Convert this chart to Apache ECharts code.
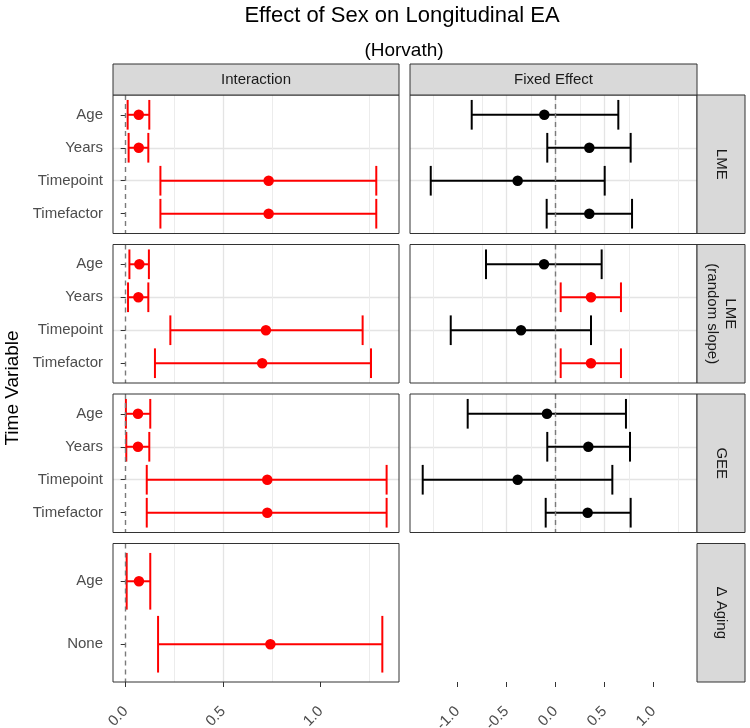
<!DOCTYPE html>
<html><head><meta charset="utf-8">
<script src="https://cdn.jsdelivr.net/npm/echarts@6/dist/echarts.min.js"></script>
<style>html,body{margin:0;padding:0;background:#fff}#c{width:750px;height:728px}</style>
</head><body><div id="c"></div>
<script>
// ---------- data ----------
const timeVars = ['Age', 'Years', 'Timepoint', 'Timefactor'];
const agingVars = ['Age', 'None'];
const modelNames = ['LME', 'LME\n(random slope)', 'GEE', 'Δ Aging'];
const effectNames = ['Interaction', 'Fixed Effect'];
const interactionTicks = [0, 0.5, 1.0];
const fixedTicks = [-1.0, -0.5, 0, 0.5, 1.0];

// Interaction effects (estimate, lower CI, upper CI)
const lmeIntEst  = [0.067, 0.067, 0.733, 0.733];
const lmeIntLow  = [0.010, 0.015, 0.178, 0.178];
const lmeIntHigh = [0.121, 0.116, 1.285, 1.285];
const rsIntEst   = [0.070, 0.065, 0.719, 0.700];
const rsIntLow   = [0.019, 0.012, 0.229, 0.150];
const rsIntHigh  = [0.119, 0.116, 1.215, 1.258];
const geeIntEst  = [0.063, 0.063, 0.726, 0.726];
const geeIntLow  = [0.001, 0.003, 0.108, 0.108];
const geeIntHigh = [0.126, 0.121, 1.338, 1.338];
const agingIntEst  = [0.068, 0.742];
const agingIntLow  = [0.005, 0.166];
const agingIntHigh = [0.126, 1.316];

// Fixed effects
const lmeFixEst  = [-0.114, 0.345, -0.386, 0.345];
const lmeFixLow  = [-0.855, -0.084, -1.273, -0.090];
const lmeFixHigh = [0.641, 0.767, 0.502, 0.781];
const rsFixEst   = [-0.117, 0.362, -0.352, 0.362];
const rsFixLow   = [-0.709, 0.053, -1.069, 0.053];
const rsFixHigh  = [0.471, 0.668, 0.362, 0.668];
const geeFixEst  = [-0.087, 0.335, -0.386, 0.328];
const geeFixLow  = [-0.896, -0.084, -1.355, -0.100];
const geeFixHigh = [0.719, 0.760, 0.580, 0.767];

// ---------- layout ----------
const colLeft = [113, 410];
const colWidth = [286, 287];
const rowTop = [95, 244.5, 394, 543.5];
const rowH = 138.5;
const xRange = [[-0.0651, 1.4015], [-1.4847, 1.4439]];
const xSplit = [3, 6];
const colTicks = [interactionTicks, fixedTicks];
const RED = '#ff0000', BLACK = '#000000';
const FONT = 'Liberation Sans, Arial, sans-serif';
const GRID_MAJOR = {color: '#e4e4e4', width: 1.3};
const GRID_MINOR = {color: '#ececec', width: 1};

const panels = [
  {row: 0, col: 0, cats: timeVars, est: lmeIntEst, lo: lmeIntLow, hi: lmeIntHigh},
  {row: 0, col: 1, cats: timeVars, est: lmeFixEst, lo: lmeFixLow, hi: lmeFixHigh},
  {row: 1, col: 0, cats: timeVars, est: rsIntEst, lo: rsIntLow, hi: rsIntHigh},
  {row: 1, col: 1, cats: timeVars, est: rsFixEst, lo: rsFixLow, hi: rsFixHigh},
  {row: 2, col: 0, cats: timeVars, est: geeIntEst, lo: geeIntLow, hi: geeIntHigh},
  {row: 2, col: 1, cats: timeVars, est: geeFixEst, lo: geeFixLow, hi: geeFixHigh},
  {row: 3, col: 0, cats: agingVars, est: agingIntEst, lo: agingIntLow, hi: agingIntHigh}
];

const grids = [], xAxes = [], yAxes = [], series = [], graphics = [];

function renderErrorBar(params, api) {
  const yv = api.value(0), lo = api.value(1), hi = api.value(2);
  const a = api.coord([lo, yv]), b = api.coord([hi, yv]);
  const cap = api.size([0, 0.9], [0, yv])[1] / 2;
  const st = {stroke: api.visual('color'), lineWidth: 2};
  return {type: 'group', children: [
    {type: 'line', shape: {x1: a[0], y1: a[1], x2: b[0], y2: b[1]}, style: st},
    {type: 'line', shape: {x1: a[0], y1: a[1] - cap, x2: a[0], y2: a[1] + cap}, style: st},
    {type: 'line', shape: {x1: b[0], y1: b[1] - cap, x2: b[0], y2: b[1] + cap}, style: st}
  ]};
}

function xAxisFor(gi, col, bottom, showGrid) {
  return {
    type: 'value', gridIndex: gi, min: xRange[col][0], max: xRange[col][1], splitNumber: xSplit[col],
    axisLine: {show: false},
    axisTick: {show: bottom, length: 5, lineStyle: {color: '#333333', width: 1}, customValues: colTicks[col]},
    axisLabel: {show: bottom, rotate: 45, margin: 27, fontSize: 15, fontFamily: FONT, color: '#4d4d4d',
      customValues: colTicks[col], formatter: v => Number(v).toFixed(1)},
    splitLine: {show: showGrid, showMinLine: false, showMaxLine: false, lineStyle: GRID_MAJOR},
    minorTick: {show: false, splitNumber: 2},
    minorSplitLine: {show: showGrid, lineStyle: GRID_MINOR}
  };
}

panels.forEach(p => {
  const gi = grids.length;
  const n = p.cats.length;
  grids.push({left: colLeft[p.col], top: rowTop[p.row], width: colWidth[p.col], height: rowH,
    show: true, backgroundColor: '#ffffff', borderWidth: 0, outerBoundsMode: 'none', containLabel: false});
  xAxes.push(xAxisFor(gi, p.col, p.row === 3, true));
  const vals = p.cats.map((c, i) => i + 1);
  const cats = p.cats;
  yAxes.push({
    type: 'value', gridIndex: gi, inverse: true, min: 0.4, max: n + 0.6, splitNumber: n === 2 ? 2 : 4,
    axisLine: {show: false},
    axisTick: {show: p.col === 0, length: 5, lineStyle: {color: '#333333', width: 1}, customValues: vals},
    axisLabel: {show: p.col === 0, margin: 10, fontSize: 15, fontFamily: FONT, color: '#4d4d4d',
      customValues: vals, formatter: v => cats[Math.round(v) - 1] || ''},
    splitLine: {show: true, showMinLine: false, showMaxLine: false, lineStyle: GRID_MAJOR}
  });
  const colorOf = i => (p.lo[i] > 0 || p.hi[i] < 0) ? RED : BLACK;
  series.push({
    type: 'custom', xAxisIndex: gi, yAxisIndex: gi, renderItem: renderErrorBar,
    encode: {x: [1, 2], y: 0}, z: 3, silent: true,
    data: p.cats.map((c, i) => ({value: [i + 1, p.lo[i], p.hi[i]], itemStyle: {color: colorOf(i)}})),
    markLine: {silent: true, symbol: 'none', animation: false, label: {show: false},
      lineStyle: {type: [5, 4], color: '#7a7a7a', width: 1.4}, data: [{xAxis: 0}]}
  });
  series.push({
    type: 'scatter', xAxisIndex: gi, yAxisIndex: gi, symbol: 'circle', symbolSize: 10.5, z: 4, silent: true,
    data: p.est.map((v, i) => ({value: [v, i + 1], itemStyle: {color: colorOf(i), opacity: 1}}))
  });
  graphics.push({type: 'rect', z: 100, silent: true,
    shape: {x: colLeft[p.col], y: rowTop[p.row], width: colWidth[p.col], height: rowH},
    style: {fill: 'none', stroke: '#333333', lineWidth: 1}});
});

// empty bottom-right cell: only its x axis is drawn
{
  const gi = grids.length;
  grids.push({left: colLeft[1], top: rowTop[3], width: colWidth[1], height: rowH, show: false,
    outerBoundsMode: 'none', containLabel: false});
  xAxes.push(xAxisFor(gi, 1, true, false));
  yAxes.push({type: 'value', gridIndex: gi, show: false, min: 0, max: 1, splitLine: {show: false}});
}

// strips
effectNames.forEach((name, c) => {
  graphics.push({type: 'rect', z: 100, silent: true,
    shape: {x: colLeft[c], y: 64, width: colWidth[c], height: 31},
    style: {fill: '#d9d9d9', stroke: '#333333', lineWidth: 1}});
  graphics.push({type: 'text', z: 101, silent: true, x: colLeft[c] + colWidth[c] / 2, y: 79.5,
    style: {text: name, fill: '#1a1a1a', font: '15px ' + FONT, textAlign: 'center', textVerticalAlign: 'middle'}});
});
modelNames.forEach((name, r) => {
  graphics.push({type: 'rect', z: 100, silent: true,
    shape: {x: 697, y: rowTop[r], width: 48, height: rowH},
    style: {fill: '#d9d9d9', stroke: '#333333', lineWidth: 1}});
  graphics.push({type: 'text', z: 101, silent: true, x: 721, y: rowTop[r] + rowH / 2, rotation: -Math.PI / 2,
    style: {text: name, fill: '#1a1a1a', font: '15px ' + FONT, lineHeight: 18,
      textAlign: 'center', textVerticalAlign: 'middle'}});
});
// titles
graphics.push({type: 'text', z: 101, silent: true, x: 402, y: 16,
  style: {text: 'Effect of Sex on Longitudinal EA', fill: '#000000', font: '22px ' + FONT,
    textAlign: 'center', textVerticalAlign: 'middle'}});
graphics.push({type: 'text', z: 101, silent: true, x: 404, y: 51,
  style: {text: '(Horvath)', fill: '#000000', font: '19px ' + FONT, textAlign: 'center', textVerticalAlign: 'middle'}});
graphics.push({type: 'text', z: 101, silent: true, x: 13, y: 388, rotation: Math.PI / 2,
  style: {text: 'Time Variable', fill: '#000000', font: '19px ' + FONT, textAlign: 'center', textVerticalAlign: 'middle'}});

const chart = echarts.init(document.getElementById('c'), null, {renderer: 'canvas'});
chart.setOption({
  animation: false,
  backgroundColor: '#ffffff',
  grid: grids, xAxis: xAxes, yAxis: yAxes, series: series,
  graphic: {elements: graphics}
});
</script></body></html>
